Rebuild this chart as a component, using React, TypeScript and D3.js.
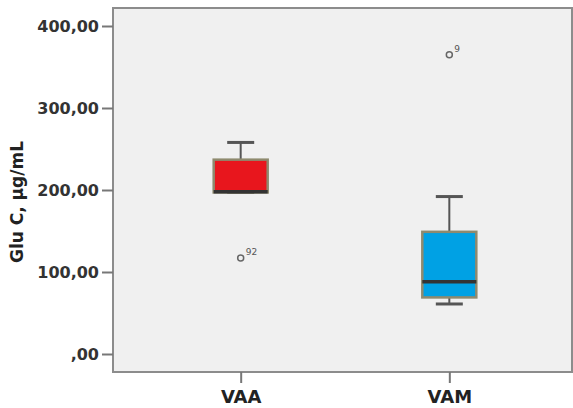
import React, { useEffect, useRef } from "react";
import * as d3 from "d3";

// groups and their box statistics
const groups = ["VAA", "VAM"];
const whiskerLow = [197, 61];
const q1 = [197, 69];
const median = [198, 88];
const q3 = [237, 149];
const whiskerHigh = [258, 192];
const outlierValues = [117, 365];
const outlierIds = ["92", "9"];
const boxColors = ["#e8161d", "#00a1e4"];
const yTicks = [0, 100, 200, 300, 400];

const fmt = (v: number) => (v === 0 ? ",00" : v.toFixed(2).replace(".", ","));
const FONT = "'DejaVu Sans', Verdana, sans-serif";

const App = () => {
  const svgRef = useRef<SVGSVGElement>(null);

  useEffect(() => {
    const W = 573;
    const H = 408;
    const margin = { top: 8, right: 1, bottom: 36, left: 113 };
    const svg = d3.select(svgRef.current).attr("width", W).attr("height", H);
    svg.selectAll("*").remove();

    const x = d3
      .scalePoint<string>()
      .domain(groups)
      .range([margin.left, W - margin.right])
      .padding(0.6)
      .align(0.51);

    const y = d3.scaleLinear().domain([0, 400]).range([354, 26]);

    // plot background
    svg
      .append("rect")
      .attr("x", margin.left)
      .attr("y", margin.top)
      .attr("width", W - margin.right - margin.left)
      .attr("height", H - margin.bottom - margin.top)
      .attr("fill", "#f0f0f0")
      .attr("stroke", "#8c8c8c")
      .attr("stroke-width", 2);

    // y axis
    const yAxis = svg
      .append("g")
      .attr("transform", `translate(${margin.left},0)`)
      .call(
        d3
          .axisLeft(y)
          .tickValues(yTicks)
          .tickFormat((d) => fmt(+d))
          .tickSize(11)
          .tickPadding(3)
      );
    yAxis.select(".domain").remove();
    yAxis.selectAll("line").attr("stroke", "#777").attr("stroke-width", 2);
    yAxis
      .selectAll("text")
      .attr("fill", "#333")
      .style("font", `bold 16px ${FONT}`);

    // x axis
    const xAxis = svg
      .append("g")
      .attr("transform", `translate(0,${H - margin.bottom})`)
      .call(d3.axisBottom(x).tickSize(11).tickPadding(7));
    xAxis.select(".domain").remove();
    xAxis.selectAll("line").attr("stroke", "#777").attr("stroke-width", 2);
    xAxis
      .selectAll("text")
      .attr("fill", "#222")
      .style("font", `bold 18px ${FONT}`);

    // axis title
    svg
      .append("text")
      .attr("transform", `translate(23,${(y(0) + y(400)) / 2 + 12}) rotate(-90)`)
      .attr("text-anchor", "middle")
      .attr("fill", "#222")
      .style("font", `bold 17px ${FONT}`)
      .text("Glu C, µg/mL");

    const boxW = 54;
    const capW = 27;

    groups.forEach((g, i) => {
      const cx = x(g)!;
      const gg = svg.append("g");

      // whisker stems
      gg.append("line")
        .attr("x1", cx).attr("x2", cx)
        .attr("y1", y(q3[i])).attr("y2", y(whiskerHigh[i]))
        .attr("stroke", "#555").attr("stroke-width", 2);
      gg.append("line")
        .attr("x1", cx).attr("x2", cx)
        .attr("y1", y(q1[i])).attr("y2", y(whiskerLow[i]))
        .attr("stroke", "#555").attr("stroke-width", 2);

      // caps
      [whiskerHigh[i], whiskerLow[i]].forEach((v) => {
        gg.append("line")
          .attr("x1", cx - capW / 2).attr("x2", cx + capW / 2)
          .attr("y1", y(v)).attr("y2", y(v))
          .attr("stroke", "#555").attr("stroke-width", 3);
      });

      // box
      gg.append("rect")
        .attr("x", cx - boxW / 2)
        .attr("y", y(q3[i]))
        .attr("width", boxW)
        .attr("height", y(q1[i]) - y(q3[i]))
        .attr("fill", boxColors[i])
        .attr("stroke", "#8e8a6e")
        .attr("stroke-width", 2.5);

      // median
      gg.append("line")
        .attr("x1", cx - boxW / 2).attr("x2", cx + boxW / 2)
        .attr("y1", y(median[i])).attr("y2", y(median[i]))
        .attr("stroke", "#333").attr("stroke-width", 3.5);

      // outlier
      gg.append("circle")
        .attr("cx", cx)
        .attr("cy", y(outlierValues[i]))
        .attr("r", 3)
        .attr("fill", "none")
        .attr("stroke", "#666")
        .attr("stroke-width", 1.5);
      gg.append("text")
        .attr("x", cx + 5)
        .attr("y", y(outlierValues[i]) - 3)
        .attr("fill", "#555")
        .style("font", `9px ${FONT}`)
        .text(outlierIds[i]);
    });
  }, []);

  return <svg ref={svgRef} style={{ position: "absolute", left: 0, top: 0 }} />;
};

export default App;
